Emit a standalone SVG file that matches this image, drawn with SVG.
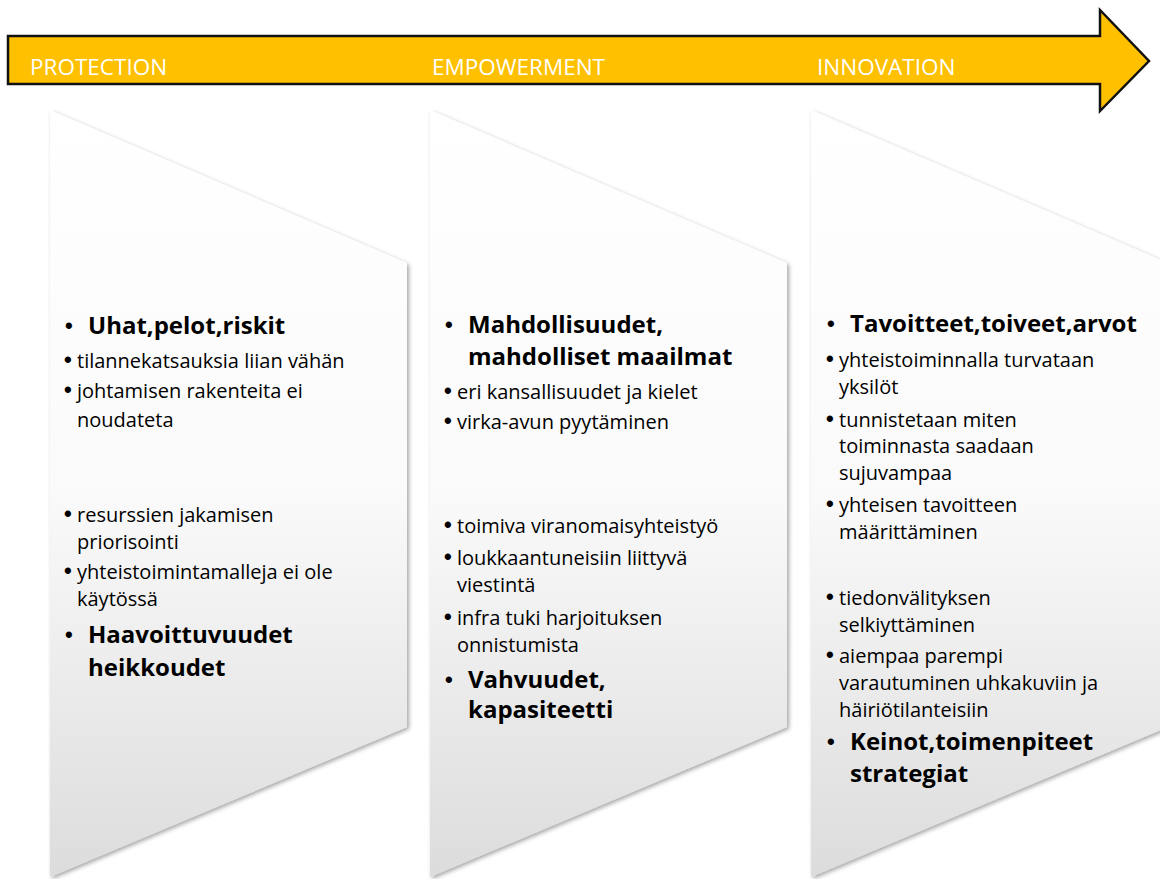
<svg xmlns="http://www.w3.org/2000/svg" width="1160" height="879" viewBox="0 0 1160 879">
  <defs>
    <linearGradient id="panelFill" x1="0" y1="0" x2="0" y2="1">
      <stop offset="0" stop-color="#ffffff"/>
      <stop offset="0.5" stop-color="#fafafa"/>
      <stop offset="1" stop-color="#dcdcdc"/>
    </linearGradient>
    <filter id="softShadow" x="-10%" y="-10%" width="120%" height="120%">
      <feDropShadow dx="2" dy="2" stdDeviation="2.2" flood-color="#000" flood-opacity="0.35"/>
    </filter>
    <polygon id="panelShape" points="0,0 357,153 357,617 0,767"/>
  </defs>
  <style>
    .phase { font-family: "Open Sans", "Liberation Sans", sans-serif; font-size: 22.5px; fill: #ffffff; }
    .item { font-family: "Open Sans", "Liberation Sans", sans-serif; font-size: 20px; fill: #000000; }
    .head { font-family: "Open Sans", "Liberation Sans", sans-serif; font-size: 24px; font-weight: bold; fill: #000000; }
    .dot { font-family: "Liberation Sans", sans-serif; font-size: 22px; font-weight: bold; fill: #000000; }
    .panel { fill: url(#panelFill); filter: url(#softShadow); }
  </style>

  <rect width="1160" height="879" fill="#ffffff"/>

  <!-- timeline arrow -->
  <g id="timeline">
    <polygon points="8,36 1100,36 1100,10 1149,61 1100,111 1100,84 8,84" fill="#ffc000" stroke="#111111" stroke-width="2.5" stroke-linejoin="miter"/>
    <text class="phase" x="30" y="75">PROTECTION</text>
    <text class="phase" x="432" y="75">EMPOWERMENT</text>
    <text class="phase" x="817" y="75">INNOVATION</text>
  </g>

  <!-- phase 1 -->
  <g id="protection">
    <use href="#panelShape" class="panel" transform="translate(50,110)"/>
    <text class="dot" x="65" y="333">•</text><text class="head" x="88" y="334">Uhat,pelot,riskit</text>
    <text class="dot" x="64" y="367">•</text><text class="item" x="77" y="368">tilannekatsauksia liian vähän</text>
    <text class="dot" x="64" y="397">•</text><text class="item" x="77" y="398">johtamisen rakenteita ei</text>
    <text class="item" x="77" y="427">noudateta</text>
    <text class="dot" x="64" y="521">•</text><text class="item" x="77" y="522">resurssien jakamisen</text>
    <text class="item" x="77" y="549">priorisointi</text>
    <text class="dot" x="64" y="578">•</text><text class="item" x="77" y="579">yhteistoimintamalleja ei ole</text>
    <text class="item" x="77" y="606">käytössä</text>
    <text class="dot" x="65" y="642">•</text><text class="head" x="88" y="643">Haavoittuvuudet</text>
    <text class="head" x="88" y="676">heikkoudet</text>
  </g>

  <!-- phase 2 -->
  <g id="empowerment">
    <use href="#panelShape" class="panel" transform="translate(430,110)"/>
    <text class="dot" x="445" y="332">•</text><text class="head" x="468" y="333">Mahdollisuudet,</text>
    <text class="head" x="468" y="365">mahdolliset maailmat</text>
    <text class="dot" x="444" y="398">•</text><text class="item" x="457" y="399">eri kansallisuudet ja kielet</text>
    <text class="dot" x="444" y="428">•</text><text class="item" x="457" y="429">virka-avun pyytäminen</text>
    <text class="dot" x="444" y="532">•</text><text class="item" x="457" y="533">toimiva viranomaisyhteistyö</text>
    <text class="dot" x="444" y="564">•</text><text class="item" x="457" y="565">loukkaantuneisiin liittyvä</text>
    <text class="item" x="457" y="592">viestintä</text>
    <text class="dot" x="444" y="624">•</text><text class="item" x="457" y="625">infra tuki harjoituksen</text>
    <text class="item" x="457" y="652">onnistumista</text>
    <text class="dot" x="445" y="687">•</text><text class="head" x="468" y="688">Vahvuudet,</text>
    <text class="head" x="468" y="718">kapasiteetti</text>
  </g>

  <!-- phase 3 -->
  <g id="innovation">
    <use href="#panelShape" class="panel" transform="translate(811,110)"/>
    <text class="dot" x="827" y="331">•</text><text class="head" x="850" y="332">Tavoitteet,toiveet,arvot</text>
    <text class="dot" x="826" y="366">•</text><text class="item" x="839" y="367">yhteistoiminnalla turvataan</text>
    <text class="item" x="839" y="394">yksilöt</text>
    <text class="dot" x="826" y="426">•</text><text class="item" x="839" y="427">tunnistetaan miten</text>
    <text class="item" x="839" y="453">toiminnasta saadaan</text>
    <text class="item" x="839" y="480">sujuvampaa</text>
    <text class="dot" x="826" y="511">•</text><text class="item" x="839" y="512">yhteisen tavoitteen</text>
    <text class="item" x="839" y="539">määrittäminen</text>
    <text class="dot" x="826" y="604">•</text><text class="item" x="839" y="605">tiedonvälityksen</text>
    <text class="item" x="839" y="632">selkiyttäminen</text>
    <text class="dot" x="826" y="662">•</text><text class="item" x="839" y="663">aiempaa parempi</text>
    <text class="item" x="839" y="690">varautuminen uhkakuviin ja</text>
    <text class="item" x="839" y="717">häiriötilanteisiin</text>
    <text class="dot" x="827" y="749">•</text><text class="head" x="850" y="750">Keinot,toimenpiteet</text>
    <text class="head" x="850" y="782">strategiat</text>
  </g>
</svg>
